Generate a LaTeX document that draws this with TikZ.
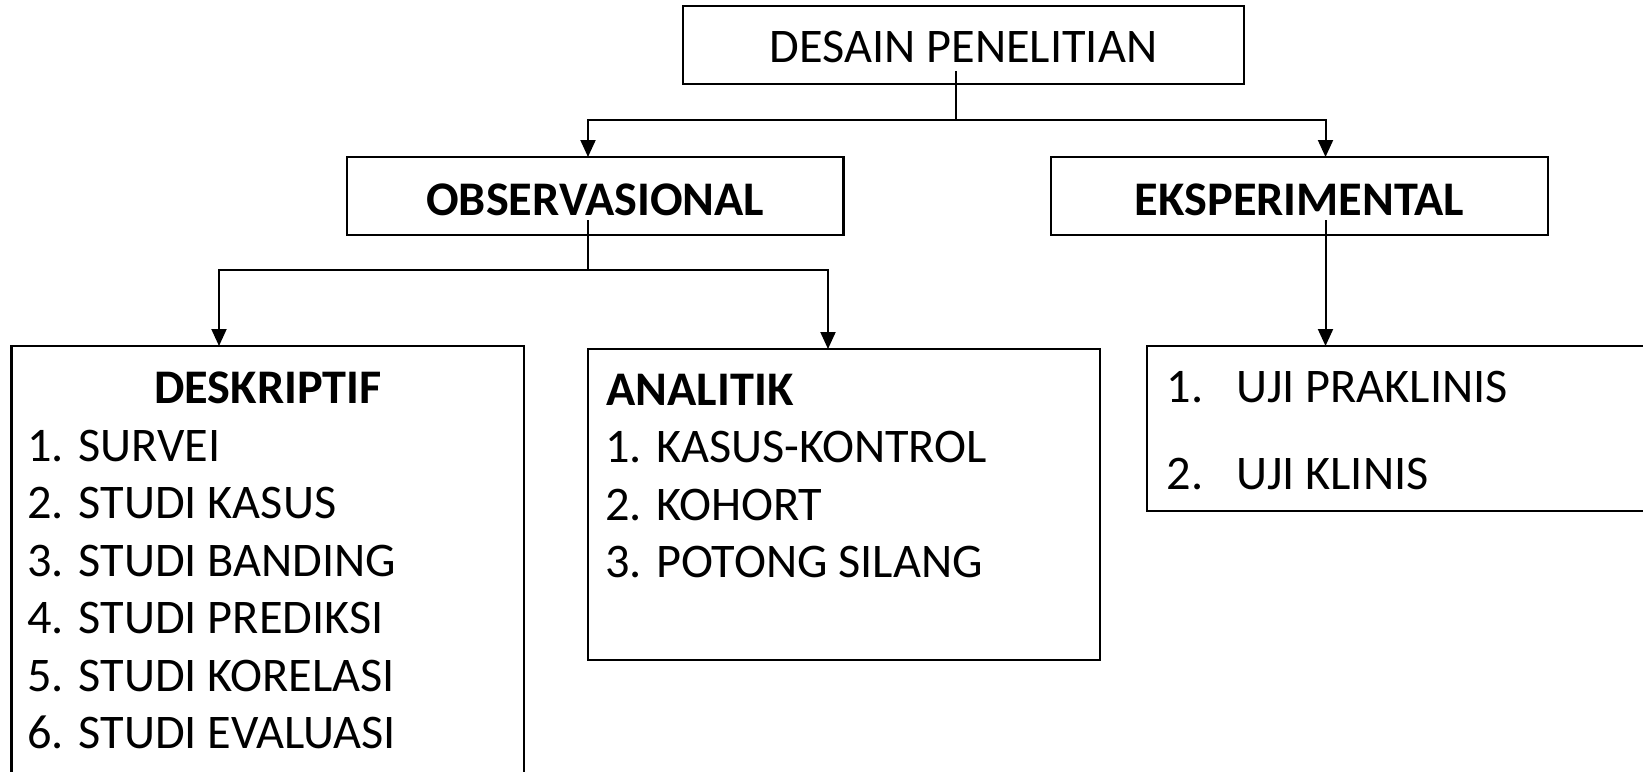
\documentclass[tikz,border=0pt]{standalone}
\usepackage{fontspec}
\setmainfont{Carlito}
\usetikzlibrary{arrows.meta}
\begin{document}
\begin{tikzpicture}[x=1pt,y=-1pt,
  box/.style={draw,line width=2.5pt,rectangle,inner sep=0pt,outer sep=0pt},
  conn/.style={line width=2pt},
  arr/.style={conn,-{Triangle[length=17pt,width=15pt]}},
  txt/.style={inner sep=0pt,outer sep=0pt,font=\fontsize{48.3}{58}\selectfont},
  btxt/.style={txt,font=\fontsize{48.3}{58}\selectfont\bfseries}]
\useasboundingbox (0,0) rectangle (1643,771);
\clip (0,0) rectangle (1643,771);
% boxes
\node[box,minimum width=561pt,minimum height=78pt] (top) at (963.5,45) {};
\node[box,minimum width=496.5pt,minimum height=78pt] (obs) at (595.25,196) {};
\node[box,minimum width=497pt,minimum height=78pt] (eks) at (1299.5,196) {};
\node[box,minimum width=512.5pt,minimum height=444pt] (desk) at (267.75,568) {};
\node[box,minimum width=512pt,minimum height=311pt] (anal) at (844,504.5) {};
\node[box,minimum width=513pt,minimum height=165pt] (uji) at (1403.5,428.5) {};
% texts
\node[txt,anchor=base] (ttop) at (963.5,62) {DESAIN PENELITIAN};
\node[btxt,anchor=base] (tobs) at (595.25,215) {OBSERVASIONAL};
\node[btxt,anchor=base] (teks) at (1299.5,215) {EKSPERIMENTAL};
\node[btxt,anchor=base] (tdesk) at (268,403) {DESKRIPTIF};
\node[txt,anchor=base west] (d1) at (27.5,461) {1. SURVEI};
\node[txt,anchor=base west] (d2) at (27.5,518.5) {2. STUDI KASUS};
\node[txt,anchor=base west] (d3) at (27.5,576) {3. STUDI BANDING};
\node[txt,anchor=base west] (d4) at (27.5,633.5) {4. STUDI PREDIKSI};
\node[txt,anchor=base west] (d5) at (27.5,691) {5. STUDI KORELASI};
\node[txt,anchor=base west] (d6) at (27.5,748.5) {6. STUDI EVALUASI};
\node[btxt,anchor=base west] (tanal) at (606.5,405) {ANALITIK};
\node[txt,anchor=base west] (a1) at (605,462.5) {1. KASUS-KONTROL};
\node[txt,anchor=base west] (a2) at (605,520) {2. KOHORT};
\node[txt,anchor=base west] (a3) at (605,577.5) {3. POTONG SILANG};
\node[txt,anchor=base west] (u1) at (1166.5,402) {\makebox[70.5pt][l]{1.}UJI PRAKLINIS};
\node[txt,anchor=base west] (u2) at (1166.5,489) {\makebox[70.5pt][l]{2.}UJI KLINIS};
% connectors
\coordinate (s0) at (956,71);
\coordinate (h0) at (956,119.5);
\coordinate (h1) at (588,119.5);
\coordinate (h2) at (1325.5,119.5);
\draw[conn] (s0) -- (h0);
\draw[arr] (h0) -- (h1) -- (h1 |- obs.north);
\draw[arr] (h0) -- (h2) -- (h2 |- eks.north);
\coordinate (s1) at (588,220);
\coordinate (g0) at (588,270);
\coordinate (g1) at (219,270);
\coordinate (g2) at (828,270);
\draw[conn] (s1) -- (g0);
\draw[arr] (g0) -- (g1) -- (g1 |- desk.north);
\draw[arr] (g0) -- (g2) -- (g2 |- anal.north);
\coordinate (s2) at (1325.5,220);
\draw[arr] (s2) -- (s2 |- uji.north);
\end{tikzpicture}
\end{document}
